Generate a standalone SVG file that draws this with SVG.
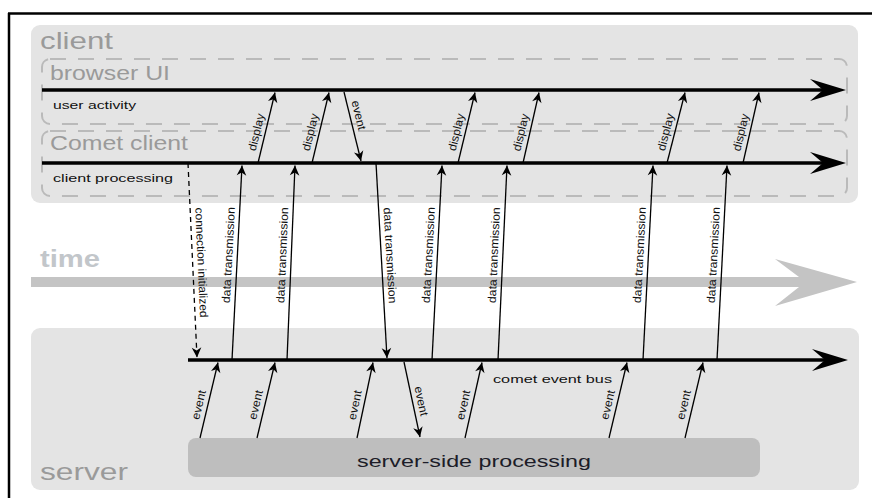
<svg xmlns="http://www.w3.org/2000/svg" width="872" height="498" viewBox="0 0 872 498">
  <defs>
    <style>
      .panel { fill: #e4e4e4; }
      .lane { fill: none; stroke: #bababa; stroke-width: 2; stroke-dasharray: 16 12; }
      .title { font-family: "Liberation Sans", Arial, sans-serif; fill: #9a9a9a; }
      .small { font-family: "Liberation Sans", Arial, sans-serif; font-size: 11.5px; fill: #111; }
      .lbl { font-family: "Liberation Sans", Arial, sans-serif; font-size: 11.5px; fill: #111; text-anchor: middle; }
      .axis { fill: none; stroke: #000; stroke-width: 3.5; marker-end: url(#bighead); }
      .msg { fill: none; stroke: #000; stroke-width: 1.3; marker-end: url(#head); }
      .dash { stroke-dasharray: 5 4; }
    </style>
    <marker id="head" markerUnits="userSpaceOnUse" viewBox="-11 -6 12 12" markerWidth="12" markerHeight="12" refX="0" refY="0" orient="auto">
      <path d="M0,0 L-10,-4.8 L-7,0 L-10,4.8 Z" fill="#000"/>
    </marker>
    <marker id="bighead" markerUnits="userSpaceOnUse" viewBox="-38 -12 40 24" markerWidth="40" markerHeight="24" refX="-23" refY="0" orient="auto">
      <path d="M0,0 L-36,-11 L-23,0 L-36,11 Z" fill="#000"/>
    </marker>
  </defs>

  <!-- frame edges -->
  <line x1="8" y1="13.5" x2="872" y2="13.5" stroke="#000" stroke-width="2.5"/>
  <line x1="9" y1="13" x2="9" y2="498" stroke="#000" stroke-width="2.5"/>

  <!-- client side -->
  <g id="client">
    <rect class="panel" x="31" y="25" width="827" height="178" rx="9"/>
    <text class="title" x="40" y="49" font-size="24" textLength="73" lengthAdjust="spacingAndGlyphs">client</text>
  </g>
  <g id="browser-ui">
    <rect class="lane" x="42" y="59" width="805" height="65" rx="8"/>
    <text class="title" x="50" y="80" font-size="21" textLength="120" lengthAdjust="spacingAndGlyphs">browser UI</text>
    <text class="small" x="53" y="109" textLength="83" lengthAdjust="spacingAndGlyphs">user activity</text>
  </g>
  <g id="comet-client">
    <rect class="lane" x="42" y="131" width="805" height="65" rx="8"/>
    <text class="title" x="50" y="150" font-size="21" textLength="138" lengthAdjust="spacingAndGlyphs">Comet client</text>
    <text class="small" x="53" y="182" textLength="120" lengthAdjust="spacingAndGlyphs">client processing</text>
  </g>

  <!-- time axis -->
  <g id="time">
    <text x="40" y="267" font-family="Liberation Sans, Arial, sans-serif" font-weight="bold" font-size="24" fill="#c2c6ca" textLength="60" lengthAdjust="spacingAndGlyphs">time</text>
    <path d="M31,277 L799,277 L775,259 L857,282 L775,306 L799,287 L31,287 Z" fill="#c4c4c4"/>
  </g>

  <!-- server side -->
  <g id="server">
    <rect class="panel" x="31" y="328" width="828" height="162" rx="9"/>
    <text class="title" x="40" y="480" font-size="24" textLength="88" lengthAdjust="spacingAndGlyphs">server</text>
  </g>
  <g id="server-side-processing">
    <rect x="188" y="438" width="572" height="39" rx="8" fill="#bebebe"/>
    <text x="474" y="467" text-anchor="middle" font-family="Liberation Sans, Arial, sans-serif" font-size="17" fill="#1c1c28" textLength="234" lengthAdjust="spacingAndGlyphs">server-side processing</text>
  </g>
  <g id="comet-event-bus">
    <text class="small" x="493" y="383" textLength="119" lengthAdjust="spacingAndGlyphs">comet event bus</text>
  </g>

  <!-- connectors -->
  <g id="connectors">
    <!-- timelines -->
    <line class="axis" x1="42" y1="90" x2="823" y2="90"/>
    <line class="axis" x1="42" y1="163" x2="823" y2="163"/>
    <line class="axis" x1="188" y1="360" x2="825" y2="360"/>

    <!-- display: Comet client to browser UI -->
    <line class="msg" x1="258" y1="163" x2="275" y2="92.5"/>
    <line class="msg" x1="312" y1="163" x2="329" y2="92.5"/>
    <line class="msg" x1="458" y1="163" x2="475" y2="92.5"/>
    <line class="msg" x1="523" y1="163" x2="539" y2="92.5"/>
    <line class="msg" x1="667" y1="163" x2="685" y2="92.5"/>
    <line class="msg" x1="743" y1="163" x2="759" y2="92.5"/>
    <!-- event: browser UI to Comet client -->
    <line class="msg" x1="344" y1="92" x2="361" y2="161"/>

    <!-- data transmission: bus to Comet client -->
    <line class="msg" x1="232" y1="360" x2="242" y2="165.5"/>
    <line class="msg" x1="287" y1="360" x2="295" y2="165.5"/>
    <line class="msg" x1="432" y1="360" x2="442" y2="165.5"/>
    <line class="msg" x1="498" y1="360" x2="507" y2="165.5"/>
    <line class="msg" x1="643" y1="360" x2="653" y2="165.5"/>
    <line class="msg" x1="717" y1="360" x2="727" y2="165.5"/>
    <!-- data transmission: Comet client to bus -->
    <line class="msg" x1="376" y1="163" x2="387" y2="358"/>
    <!-- connection initialized -->
    <line class="msg dash" x1="188" y1="163" x2="197" y2="357.5"/>

    <!-- events: processing to bus -->
    <line class="msg" x1="200" y1="438" x2="218" y2="362.5"/>
    <line class="msg" x1="257" y1="438" x2="275" y2="362.5"/>
    <line class="msg" x1="357" y1="438" x2="373" y2="362.5"/>
    <line class="msg" x1="465" y1="438" x2="482" y2="362.5"/>
    <line class="msg" x1="609" y1="438" x2="627" y2="362.5"/>
    <line class="msg" x1="685" y1="438" x2="703" y2="362.5"/>
    <!-- event: bus to processing -->
    <line class="msg" x1="404" y1="362" x2="420" y2="437"/>

    <!-- connector labels -->
    <g class="lbl">
      <text transform="translate(266.5,127.5) rotate(-76.5)" x="-7" y="-5" textLength="38" lengthAdjust="spacingAndGlyphs">display</text>
      <text transform="translate(320.5,127.5) rotate(-76.5)" x="-7" y="-5" textLength="38" lengthAdjust="spacingAndGlyphs">display</text>
      <text transform="translate(466.5,127.5) rotate(-76.5)" x="-7" y="-5" textLength="38" lengthAdjust="spacingAndGlyphs">display</text>
      <text transform="translate(531,127.5) rotate(-77)" x="-7" y="-5" textLength="38" lengthAdjust="spacingAndGlyphs">display</text>
      <text transform="translate(676,127.5) rotate(-75.7)" x="-7" y="-5" textLength="38" lengthAdjust="spacingAndGlyphs">display</text>
      <text transform="translate(751,127.5) rotate(-77)" x="-7" y="-5" textLength="38" lengthAdjust="spacingAndGlyphs">display</text>
      <text transform="translate(352.5,127) rotate(76.3)" x="-10" y="-5" textLength="30" lengthAdjust="spacingAndGlyphs">event</text>

      <text transform="translate(237,262.5) rotate(-87)" x="7" y="-5" textLength="96" lengthAdjust="spacingAndGlyphs">data transmission</text>
      <text transform="translate(291,262.5) rotate(-87.6)" x="7" y="-5" textLength="96" lengthAdjust="spacingAndGlyphs">data transmission</text>
      <text transform="translate(437,262.5) rotate(-87)" x="7" y="-5" textLength="96" lengthAdjust="spacingAndGlyphs">data transmission</text>
      <text transform="translate(502.5,262.5) rotate(-87.4)" x="7" y="-5" textLength="96" lengthAdjust="spacingAndGlyphs">data transmission</text>
      <text transform="translate(648,262.5) rotate(-87)" x="7" y="-5" textLength="96" lengthAdjust="spacingAndGlyphs">data transmission</text>
      <text transform="translate(722,262.5) rotate(-87)" x="7" y="-5" textLength="96" lengthAdjust="spacingAndGlyphs">data transmission</text>
      <text transform="translate(381.5,260.5) rotate(86.8)" x="-4.5" y="-5" textLength="96" lengthAdjust="spacingAndGlyphs">data transmission</text>
      <text transform="translate(192.5,260) rotate(87.4)" x="3" y="-5" textLength="110" lengthAdjust="spacingAndGlyphs">connection initialized</text>

      <text transform="translate(209,400) rotate(-76.7)" x="-7" y="-5" textLength="30" lengthAdjust="spacingAndGlyphs">event</text>
      <text transform="translate(266,400) rotate(-76.7)" x="-7" y="-5" textLength="30" lengthAdjust="spacingAndGlyphs">event</text>
      <text transform="translate(365,400) rotate(-78.1)" x="-7" y="-5" textLength="30" lengthAdjust="spacingAndGlyphs">event</text>
      <text transform="translate(473.5,400) rotate(-77.4)" x="-7" y="-5" textLength="30" lengthAdjust="spacingAndGlyphs">event</text>
      <text transform="translate(618,400) rotate(-76.7)" x="-7" y="-5" textLength="30" lengthAdjust="spacingAndGlyphs">event</text>
      <text transform="translate(694,400) rotate(-76.7)" x="-7" y="-5" textLength="30" lengthAdjust="spacingAndGlyphs">event</text>
      <text transform="translate(412,400) rotate(78.1)" x="3" y="-5" textLength="30" lengthAdjust="spacingAndGlyphs">event</text>
    </g>
  </g>
</svg>
